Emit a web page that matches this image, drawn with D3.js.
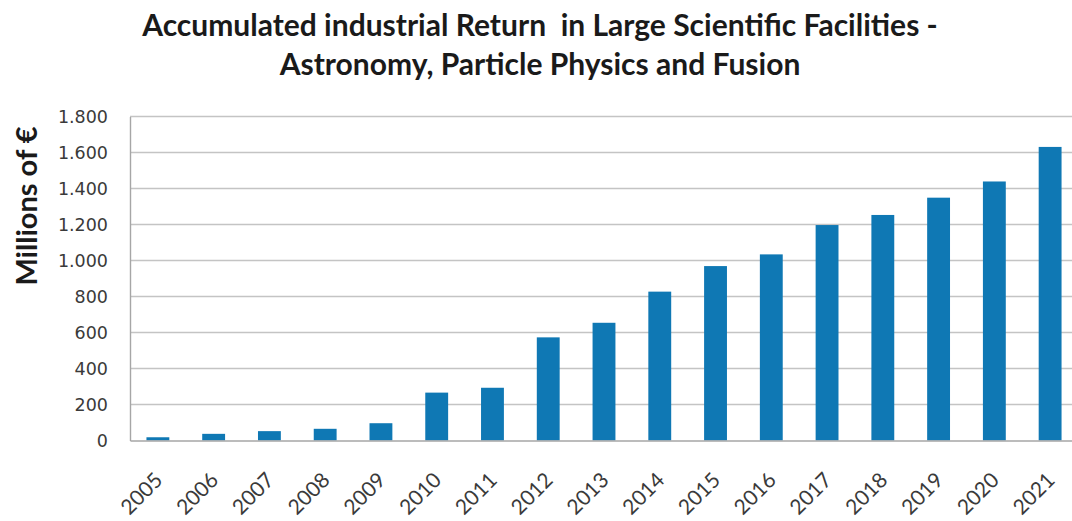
<!DOCTYPE html>
<html>
<head>
<meta charset="utf-8">
<script src="https://cdn.jsdelivr.net/npm/d3@7"></script>
<style>
  body { margin: 0; background: #fff; }
  svg { display: block; }
</style>
</head>
<body>
<div id="vis"></div>
<script>
const years = ["2005", "2006", "2007", "2008", "2009", "2010", "2011", "2012", "2013",
	"2014", "2015", "2016", "2017", "2018", "2019", "2020", "2021"];
const returns = [18, 37, 52, 65, 96, 266, 293, 573, 654, 827, 969, 1034, 1197, 1253, 1349, 1439, 1631];
const yTicks = [0, 200, 400, 600, 800, 1000, 1200, 1400, 1600, 1800];
const titleLines = ["Accumulated industrial Return  in Large Scientific Facilities -",
	"Astronomy, Particle Physics and Fusion"];

const W = 1072, H = 521;
const plotL = 130, plotR = 1078, plotT = 116.5, plotB = 440.5;

const svg = d3.select("#vis").append("svg")
	.attr("width", W)
	.attr("height", H);

// title
svg.append("g")
	.selectAll("text")
	.data(titleLines)
	.join("text")
	.attr("x", 540)
	.attr("y", (d, i) => 36 + i * 39)
	.attr("text-anchor", "middle")
	.attr("font-family", "Lato, 'Open Sans', sans-serif")
	.attr("font-weight", "bold")
	.attr("font-size", 30)
	.attr("fill", "#1a1a1a")
	.style("white-space", "pre")
	.text(d => d);

const x = d3.scaleBand()
	.domain(years)
	.range([plotL, plotR])
	.paddingInner(0.59)
	.paddingOuter(0.295);

const y = d3.scaleLinear()
	.domain([0, 1800])
	.range([plotB, plotT]);

const fmt = v => d3.format(",")(v).replace(/,/g, ".");

// grid
svg.append("g")
	.selectAll("line")
	.data(yTicks.filter(t => t > 0))
	.join("line")
	.attr("x1", plotL)
	.attr("x2", W)
	.attr("y1", d => y(d))
	.attr("y2", d => y(d))
	.attr("stroke", "#c4c4c4")
	.attr("stroke-width", 1.6);

// y axis
const yAxis = svg.append("g")
	.attr("transform", `translate(${plotL},0)`)
	.call(d3.axisLeft(y).tickValues(yTicks).tickFormat(fmt).tickSize(0).tickPadding(22));
yAxis.select(".domain").attr("stroke", "#a6a6a6").attr("stroke-width", 1.4);
yAxis.selectAll("text")
	.attr("font-family", "'DejaVu Sans', sans-serif")
	.attr("font-size", 17.5)
	.attr("fill", "#3a3a3a");

// bars
svg.append("g")
	.selectAll("rect")
	.data(returns)
	.join("rect")
	.attr("x", (d, i) => x(years[i]))
	.attr("width", x.bandwidth())
	.attr("y", d => y(d))
	.attr("height", d => y(0) - y(d))
	.attr("fill", "#0f78b4");

// x axis
const xAxis = svg.append("g")
	.attr("transform", `translate(0,${plotB})`)
	.call(d3.axisBottom(x).tickSize(0));
xAxis.select(".domain").attr("stroke", "#a6a6a6").attr("stroke-width", 1.4);
xAxis.selectAll("text")
	.attr("font-family", "Lato, 'Open Sans', sans-serif")
	.attr("font-size", 21)
	.attr("fill", "#3a3a3a")
	.attr("text-anchor", "end")
	.attr("x", 0)
	.attr("y", 0)
	.attr("dy", 0)
	.attr("transform", "translate(6,41) rotate(-45)");

// y label
svg.append("text")
	.attr("transform", "translate(37,206) rotate(-90)")
	.attr("text-anchor", "middle")
	.attr("font-family", "Lato, 'Open Sans', sans-serif")
	.attr("font-weight", "bold")
	.attr("font-size", 29)
	.attr("fill", "#1a1a1a")
	.text("Millions of €");
</script>
</body>
</html>
